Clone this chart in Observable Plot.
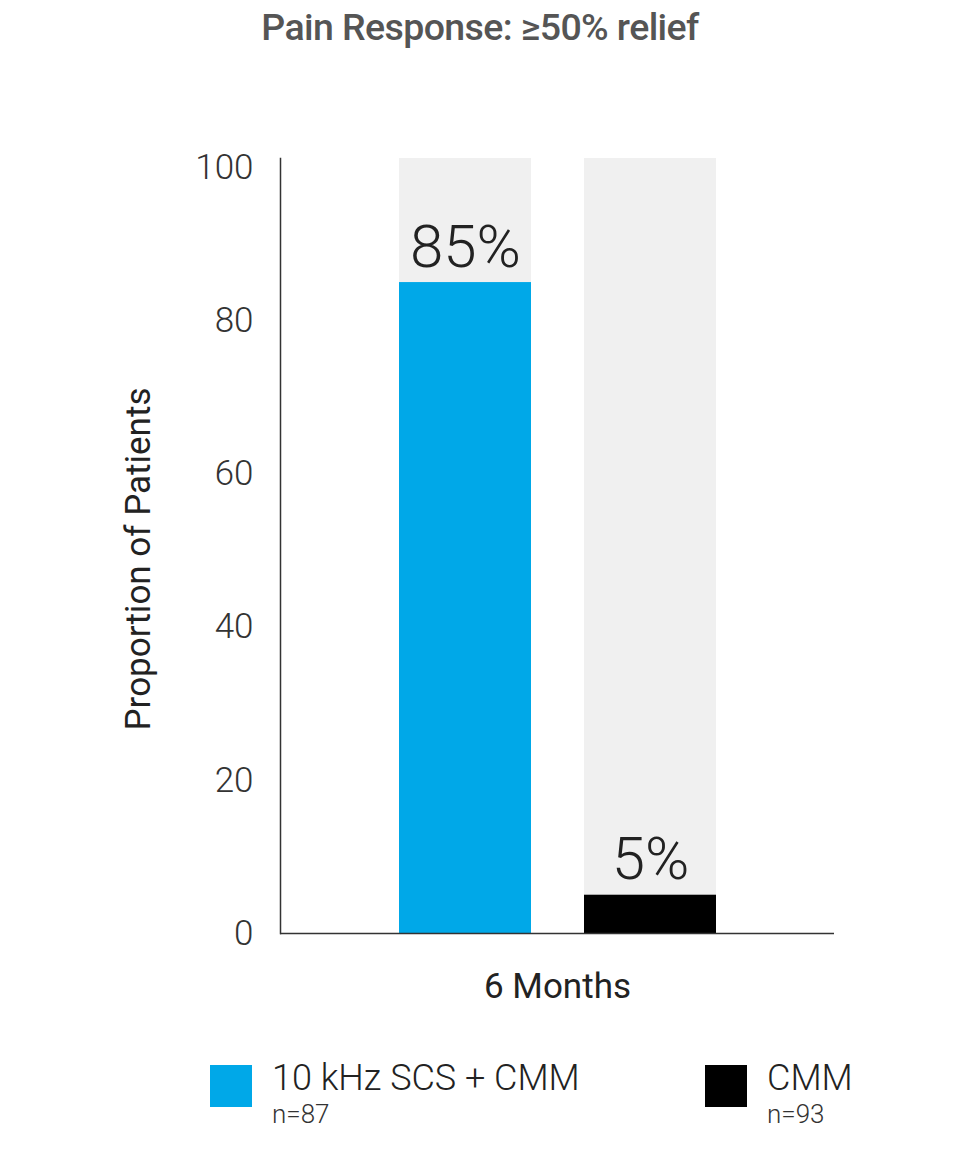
<!DOCTYPE html>
<html>
<head>
<meta charset="utf-8">
<script src="https://cdn.jsdelivr.net/npm/d3@7"></script>
<script src="https://cdn.jsdelivr.net/npm/@observablehq/plot@0.6"></script>
<style>
  body { margin: 0; background: #fff; font-family: Roboto, "Noto Sans", sans-serif; }
  #wrap { position: relative; width: 960px; height: 1170px; overflow: hidden; }
  #title { position: absolute; left: 0; top: 0; width: 960px; text-align: center;
           font-size: 37.5px; font-weight: 500; color: #555; line-height: 54px; letter-spacing: -0.6px; }
  #chart { position: absolute; left: 0; top: 60px; }
  .sw { position: absolute; width: 42px; height: 42px; }
  .lt { position: absolute; font-size: 36px; font-weight: 300; color: #222; line-height: 1; white-space: nowrap; }
  .ln { position: absolute; font-size: 26px; font-weight: 300; color: #333; line-height: 1; white-space: nowrap; }
</style>
</head>
<body>
<div id="wrap">
  <div id="title"></div>
  <div id="chart"></div>
  <div id="legend"></div>
</div>
<script>
// ---- data ----
const groups = ["10 kHz SCS + CMM", "CMM"];
const values = [85, 5];
const sampleSizes = ["n=87", "n=93"];
const colors = ["#00a8e8", "#000000"];
const periodLabel = "6 Months";
const yTicks = [0, 20, 40, 60, 80, 100];
const yTop = 101.2;
const titleText = "Pain Response: ≥50% relief";
const yLabel = "Proportion of Patients";

document.getElementById("title").textContent = titleText;

const data = groups.map((g, i) => ({group: g, value: values[i], n: sampleSizes[i]}));

const chart = Plot.plot({
  width: 960,
  height: 980,
  marginLeft: 280,
  marginRight: 126,
  marginTop: 98,
  marginBottom: 107,
  style: {fontFamily: "Roboto, sans-serif", background: "transparent"},
  x: {domain: groups, paddingInner: 0.2865, paddingOuter: 0.638, axis: null},
  y: {domain: [0, yTop]},
  color: {domain: groups, range: colors},
  marks: [
    Plot.barY(data, {x: "group", y: () => yTop, fill: "#f0f0f0"}),
    Plot.barY(data, {x: "group", y: "value", fill: "group"}),
    Plot.ruleY([0], {stroke: "#333", strokeWidth: 1.5}),
    Plot.frame({anchor: "left", stroke: "#333", strokeWidth: 1.5}),
    Plot.axisY({
      ticks: yTicks, tickSize: 0, tickPadding: 27, fontSize: 35, fill: "#333", label: null
    }),
    Plot.text([yLabel], {
      frameAnchor: "left", textAnchor: "middle", text: d => d, rotate: -90, dx: -142, dy: 13,
      fontSize: 35, fill: "#222", ariaLabel: "y-label"
    }),
    Plot.text(data, {
      x: "group", y: "value", text: d => d.value + "%", lineAnchor: "bottom", dy: -16,
      fontSize: 60, fontWeight: 300, fill: "#222", ariaLabel: "value-label"
    }),
    Plot.text([periodLabel], {
      frameAnchor: "bottom", text: d => d, lineAnchor: "top", dy: 40,
      fontSize: 35, fill: "#222", ariaLabel: "period-label"
    })
  ]
});

// style tweaks
d3.select(chart).selectAll('g[aria-label="y-axis tick label"] text').attr("font-weight", 300);
d3.select(chart).selectAll('g[aria-label="value-label"] text').each(function() {
  const t = this.textContent;
  const num = t.replace("%", "");
  const sel = d3.select(this);
  sel.text("");
  sel.append("tspan").text(num);
  sel.append("tspan").attr("font-size", 42).text("%");
});
document.getElementById("chart").appendChild(chart);

// legend
const legend = document.getElementById("legend");
const legendX = [210, 705];
groups.forEach((g, i) => {
  const sw = document.createElement("div");
  sw.className = "sw";
  sw.style.left = legendX[i] + "px";
  sw.style.top = "1065px";
  sw.style.background = colors[i];
  legend.appendChild(sw);
  const lt = document.createElement("div");
  lt.className = "lt";
  lt.style.left = (legendX[i] + 62) + "px";
  lt.style.top = "1060px";
  lt.textContent = g;
  legend.appendChild(lt);
  const ln = document.createElement("div");
  ln.className = "ln";
  ln.style.left = (legendX[i] + 62) + "px";
  ln.style.top = "1101px";
  ln.textContent = sampleSizes[i];
  legend.appendChild(ln);
});
</script>
</body>
</html>
